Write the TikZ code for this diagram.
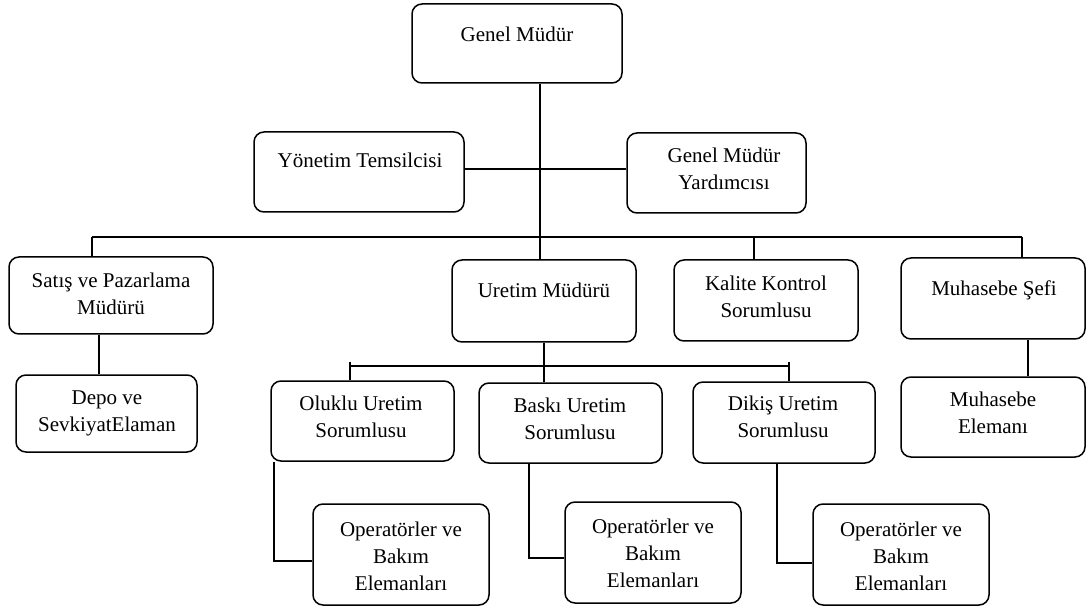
\documentclass[tikz,border=0pt]{standalone}
\usepackage{fontspec}
\setmainfont{Liberation Serif}
\begin{document}
\begin{tikzpicture}[x=1pt,y=-1pt,
  box/.style={draw, rounded corners=10pt, line width=1.5pt, inner sep=0pt},
  txt/.style={font=\fontsize{21}{27}\selectfont, align=center, inner sep=0pt},
  link/.style={line width=1.5pt}]
\useasboundingbox[fill=white] (0,0) rectangle (1090,612);

% boxes
\node[box, minimum width=210pt, minimum height=79pt] (gm)  at (517,43.5) {};
\node[box, minimum width=210pt, minimum height=80pt] (yt)  at (359,172) {};
\node[box, minimum width=179pt, minimum height=80pt] (gmy) at (716.5,173) {};
\node[box, minimum width=204pt, minimum height=77pt] (sat) at (111,295.5) {};
\node[box, minimum width=181pt, minimum height=77pt] (dep) at (106.5,413.5) {};
\node[box, minimum width=184pt, minimum height=82pt] (ure) at (544,301) {};
\node[box, minimum width=184pt, minimum height=81pt] (kal) at (766,300.5) {};
\node[box, minimum width=184pt, minimum height=81pt] (muh) at (993,298.5) {};
\node[box, minimum width=184pt, minimum height=80pt] (mel) at (993,417) {};
\node[box, minimum width=183pt, minimum height=80pt] (olu) at (362.5,421) {};
\node[box, minimum width=183pt, minimum height=80pt] (bas) at (570.5,423) {};
\node[box, minimum width=182pt, minimum height=81pt] (dik) at (784,422.5) {};
\node[box, minimum width=176pt, minimum height=101pt] (op1) at (401,554.5) {};
\node[box, minimum width=176pt, minimum height=101pt] (op2) at (653,552.5) {};
\node[box, minimum width=176pt, minimum height=101pt] (op3) at (901,554.5) {};

% labels
\node[txt] (gm-t)  at (517,36)    {\strut Genel Müdür};
\node[txt] (yt-t)  at (360,162)   {\strut Yönetim Temsilcisi};
\node[txt] (gmy-t) at (724,171)   {\strut Genel Müdür\\\strut Yardımcısı};
\node[txt] (sat-t) at (111,295.5) {\strut Satış ve Pazarlama\\\strut Müdürü};
\node[txt] (dep-t) at (107,413)   {\strut Depo ve\\\strut SevkiyatElaman};
\node[txt] (ure-t) at (544,292)   {\strut Uretim Müdürü};
\node[txt] (kal-t) at (766,298.5) {\strut Kalite Kontrol\\\strut Sorumlusu};
\node[txt] (muh-t) at (994,290)   {\strut Muhasebe Şefi};
\node[txt] (mel-t) at (993,414.5) {\strut Muhasebe\\\strut Elemanı};
\node[txt] (olu-t) at (361,419)   {\strut Oluklu Uretim\\\strut Sorumlusu};
\node[txt] (bas-t) at (570,421)   {\strut Baskı Uretim\\\strut Sorumlusu};
\node[txt] (dik-t) at (783,418.5) {\strut Dikiş Uretim\\\strut Sorumlusu};
\node[txt] (op1-t) at (401,558)   {\strut Operatörler ve\\\strut Bakım\\\strut Elemanları};
\node[txt] (op2-t) at (653,555.5) {\strut Operatörler ve\\\strut Bakım\\\strut Elemanları};
\node[txt] (op3-t) at (901,558)   {\strut Operatörler ve\\\strut Bakım\\\strut Elemanları};

% junction points
\coordinate (trunk) at (540,169);
\coordinate (busL) at (92,237);
\coordinate (busR) at (1022,237);
\coordinate (busK) at (754,237);
\coordinate (busM) at (540,237);
\coordinate (sub)  at (544,366);
\coordinate (subL) at (350,362);
\coordinate (subR) at (789,362);
\coordinate (olu-d) at (274,561);
\coordinate (bas-d) at (529,558);
\coordinate (dik-d) at (777,563);

% connectors
\draw[link] (gm.south -| trunk) -- (ure.north -| trunk);
\draw[link] (yt.east) ++(0,-3) coordinate (yt-e) -- (yt-e -| gmy.west);
\draw[link] (busL) -- (busR);
\draw[link] (busL) -- (busL |- sat.north);
\draw[link] (busK) -- (busK |- kal.north);
\draw[link] (busR) -- (busR |- muh.north);
\draw[link] (sat.south -| 99,0) -- (dep.north -| 99,0);
\draw[link] (muh.south -| 1028,0) -- (mel.north -| 1028,0);
\draw[link] (ure.south -| sub) -- (bas.north -| sub);
\draw[link] (subL |- sub) -- (subR |- sub);
\draw[link] (subL) -- (subL |- olu.north);
\draw[link] (subR) -- (subR |- dik.north);
\draw[link] (olu.south -| olu-d) -- (olu-d) -- (olu-d -| op1.west);
\draw[link] (bas.south -| bas-d) -- (bas-d) -- (bas-d -| op2.west);
\draw[link] (dik.south -| dik-d) -- (dik-d) -- (dik-d -| op3.west);
\end{tikzpicture}
\end{document}
